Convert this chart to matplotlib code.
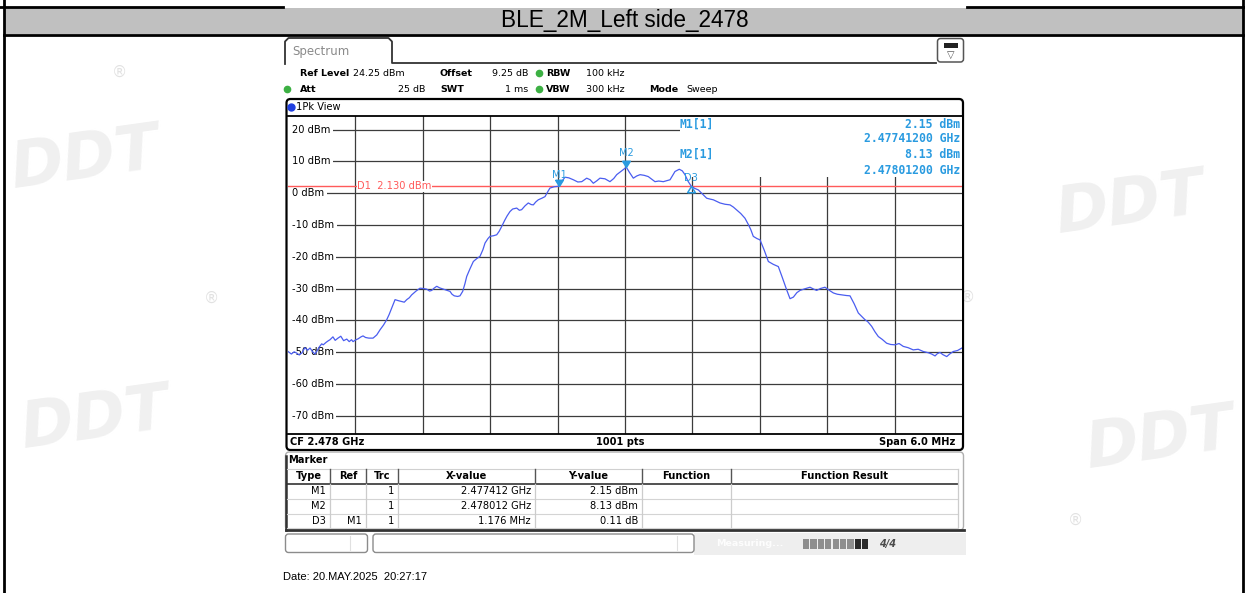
import matplotlib
matplotlib.use("Agg")
import matplotlib.pyplot as plt
from matplotlib.patches import FancyBboxPatch, Rectangle
from matplotlib.path import Path

W, H, DPI = 1245, 593, 100

# ---------------- data ----------------
title = "BLE_2M_Left side_2478"
ref_level = 24.25
db_per_div = 10
start_mhz = 2475.0
stop_mhz = 2481.0
n_xdiv = 10
d1_level = 2.130
d1_label = "D1  2.130 dBm"

ytick_values = [20, 10, 0, -10, -20, -30, -40, -50, -60, -70]
ytick_labels = ["20 dBm", "10 dBm", "0 dBm", "-10 dBm", "-20 dBm", "-30 dBm",
                "-40 dBm", "-50 dBm", "-60 dBm", "-70 dBm"]

trace_freq_mhz = [
    2475.000, 2475.030, 2475.055, 2475.077, 2475.100, 2475.125, 2475.150, 2475.175,
    2475.196, 2475.220, 2475.240, 2475.255, 2475.280, 2475.300, 2475.314, 2475.340,
    2475.360, 2475.374, 2475.400, 2475.420, 2475.445, 2475.470, 2475.495, 2475.523,
    2475.545, 2475.565, 2475.579, 2475.600, 2475.625, 2475.650, 2475.668, 2475.690,
    2475.720, 2475.757, 2475.790, 2475.819, 2475.850, 2475.879, 2475.900, 2475.923,
    2475.953, 2475.980, 2476.012, 2476.035, 2476.057, 2476.080, 2476.101, 2476.140,
    2476.175, 2476.205, 2476.235, 2476.260, 2476.279, 2476.300, 2476.324, 2476.350,
    2476.383, 2476.410, 2476.442, 2476.460, 2476.480, 2476.510, 2476.531, 2476.555,
    2476.575, 2476.591, 2476.620, 2476.650, 2476.680, 2476.709, 2476.735, 2476.754,
    2476.780, 2476.798, 2476.830, 2476.858, 2476.880, 2476.905, 2476.930, 2476.950,
    2476.976, 2477.000, 2477.036, 2477.060, 2477.080, 2477.110, 2477.139, 2477.165,
    2477.184, 2477.205, 2477.228, 2477.260, 2477.288, 2477.310, 2477.332, 2477.370,
    2477.412, 2477.440, 2477.466, 2477.500, 2477.540, 2477.580, 2477.615, 2477.659,
    2477.690, 2477.718, 2477.750, 2477.777, 2477.822, 2477.866, 2477.900, 2477.926,
    2477.970, 2478.012, 2478.040, 2478.074, 2478.105, 2478.134, 2478.170, 2478.207,
    2478.240, 2478.267, 2478.300, 2478.341, 2478.370, 2478.401, 2478.425, 2478.445,
    2478.483, 2478.510, 2478.534, 2478.560, 2478.588, 2478.620, 2478.653, 2478.690,
    2478.727, 2478.760, 2478.786, 2478.815, 2478.846, 2478.890, 2478.935, 2478.965,
    2478.994, 2479.030, 2479.068, 2479.100, 2479.120, 2479.142, 2479.175, 2479.202,
    2479.240, 2479.276, 2479.320, 2479.365, 2479.400, 2479.439, 2479.469, 2479.499,
    2479.530, 2479.558, 2479.600, 2479.647, 2479.680, 2479.706, 2479.740, 2479.780,
    2479.820, 2479.855, 2479.890, 2479.929, 2479.970, 2480.003, 2480.040, 2480.077,
    2480.110, 2480.136, 2480.160, 2480.175, 2480.196, 2480.225, 2480.255, 2480.290,
    2480.329, 2480.365, 2480.403, 2480.440, 2480.477, 2480.520, 2480.566, 2480.610,
    2480.655, 2480.700, 2480.730, 2480.760, 2480.780, 2480.804, 2480.830, 2480.864,
    2480.890, 2480.923, 2480.960, 2481.000,
]
trace_dbm = [
    -49.8, -50.6, -49.9, -50.3, -50.9, -50.2, -48.6, -49.4,
    -48.7, -49.9, -50.6, -49.8, -48.3, -47.4, -47.7, -46.9,
    -46.4, -46.1, -45.2, -46.3, -45.6, -45.0, -46.4, -45.9,
    -46.7, -46.1, -46.7, -46.2, -45.8, -45.2, -44.9, -45.4,
    -45.6, -45.6, -44.6, -43.0, -41.5, -39.8, -38.2, -36.2,
    -33.5, -33.8, -34.1, -34.3, -33.5, -32.9, -32.0, -30.8,
    -29.9, -30.0, -30.2, -30.8, -30.6, -29.9, -29.3, -29.8,
    -30.2, -30.5, -30.9, -31.8, -32.3, -32.5, -32.3, -30.9,
    -28.5, -26.2, -23.8, -21.5, -20.6, -19.9, -17.8, -15.7,
    -14.3, -13.6, -13.4, -13.1, -12.0, -10.3, -8.5, -7.2,
    -5.8, -5.0, -4.7, -5.4, -5.2, -4.0, -3.1, -3.6,
    -3.7, -2.8, -2.1, -1.6, -1.1, 0.3, 1.6, 2.0,
    2.15, 3.8, 5.0, 4.8, 4.2, 3.5, 3.6, 4.7,
    4.2, 3.1, 3.9, 4.7, 4.5, 3.6, 4.6, 5.8,
    7.0, 8.13, 6.5, 4.7, 5.4, 5.8, 5.6, 5.2,
    4.3, 3.6, 3.8, 3.6, 3.9, 4.2, 5.6, 6.8,
    7.5, 7.0, 5.8, 3.8, 2.26, 1.5, 1.0, -0.3,
    -1.6, -1.9, -2.1, -2.6, -3.1, -3.5, -3.7, -4.4,
    -5.3, -6.4, -7.9, -10.0, -11.5, -13.6, -14.3, -14.7,
    -18.0, -21.5, -22.4, -23.1, -26.5, -30.4, -33.2, -32.7,
    -31.3, -30.6, -30.1, -29.6, -30.2, -30.6, -30.0, -29.6,
    -30.6, -31.4, -31.8, -32.0, -32.2, -32.3, -34.8, -37.7,
    -38.9, -39.8, -40.4, -41.0, -41.9, -43.6, -45.1, -46.0,
    -47.2, -47.6, -47.7, -47.3, -48.2, -48.6, -49.3, -49.1,
    -49.8, -50.2, -50.6, -51.2, -50.5, -50.1, -50.8, -51.4,
    -50.6, -49.8, -49.5, -48.7,
]

marker_names = ["M1", "M2", "D3"]
marker_freq_mhz = [2477.412, 2478.012, 2478.588]
marker_dbm = [2.15, 8.13, 2.26]
marker_label_dy = [11, 14, 8]

info_lines = [("M1[1]", "2.15 dBm"), ("", "2.47741200 GHz"),
              ("M2[1]", "8.13 dBm"), ("", "2.47801200 GHz")]

table_header = ["Type", "Ref", "Trc", "X-value", "Y-value", "Function", "Function Result"]
table_rows = [
    ["M1", "", "1", "2.477412 GHz", "2.15 dBm", "", ""],
    ["M2", "", "1", "2.478012 GHz", "8.13 dBm", "", ""],
    ["D3", "M1", "1", "1.176 MHz", "0.11 dB", "", ""],
]

date_text = "Date: 20.MAY.2025  20:27:17"

# ---------------- colours / fonts ----------------
TRACE = "#4a5df0"
MK = "#2a9be0"
RED = "#ff5a5a"
GRID = "#3c3c3c"
GREEN = "#3cb043"
F = "DejaVu Sans"
FS = 7.1

fig = plt.figure(figsize=(W / DPI, H / DPI), dpi=DPI)
fig.patch.set_facecolor("white")

bg = fig.add_axes([0, 0, 1, 1])
bg.set_xlim(0, W); bg.set_ylim(H, 0); bg.axis("off"); bg.set_zorder(0)

# ---- watermarks (very faint) ----
wm = "#f0f0f0"
for (x, y, s) in [(85, 160, 46), (95, 420, 46), (1130, 205, 46), (1160, 440, 46)]:
    bg.text(x, y, "DDT", fontsize=s, color=wm, fontweight="bold", fontstyle="italic",
            ha="center", va="center", family=F, rotation=8, zorder=0)
for (x, y) in [(120, 72), (212, 298), (968, 297), (1075, 520)]:
    bg.text(x, y, "\u00ae", fontsize=11, color="#e2e2e2", ha="center", va="center", zorder=0)

# ---- page frame and title band ----
bg.add_patch(Rectangle((4, 8), 1239, 26, facecolor="#c0c0c0", edgecolor="none", zorder=1))
bg.plot([0, 283], [6.5, 6.5], color="black", lw=2, zorder=2)
bg.plot([967, W], [6.5, 6.5], color="black", lw=2, zorder=2)
bg.plot([4, 1243], [35, 35], color="black", lw=2, zorder=2)
bg.plot([4.3, 4.3], [0, H], color="black", lw=2, zorder=2)
bg.plot([1243, 1243], [0, H], color="black", lw=2, zorder=2)
bg.text(625, 20.5, title, fontsize=16.3, family="Liberation Sans", ha="center", va="center", zorder=3)

# ---- Spectrum tab ----
bg.plot([285, 285, 288.5, 388.5, 392, 392, 936], [64, 41.5, 38, 38, 41.5, 63, 63],
        color="#333333", lw=1.3, zorder=3)
bg.text(292, 51, "Spectrum", fontsize=8.5, color="#8a8a8a", family=F, ha="left", va="center", zorder=3)
bg.add_patch(FancyBboxPatch((937.5, 38.5), 26, 23.5, boxstyle="round,pad=0,rounding_size=3",
                            facecolor="white", edgecolor="#555555", lw=1.1, zorder=3))
bg.add_patch(Rectangle((944, 43), 14, 5, facecolor="#222222", edgecolor="none", zorder=4))
bg.text(951, 55, "\u25bd", fontsize=7, color="#555555", ha="center", va="center", zorder=4)

# ---- header settings ----
def t(x, y, s, bold=False, ha="left", color="black", size=FS, layer=bg):
    layer.text(x, y, s, fontsize=size, family=F, fontweight="bold" if bold else "normal",
               ha=ha, va="center", color=color, zorder=5)

HS = 6.8
t(300, 73, "Ref Level", True, size=HS); t(353, 73, "24.25 dBm", size=HS)
t(440, 73, "Offset", True, size=HS); t(528, 73, "9.25 dB", ha="right", size=HS)
t(546, 73, "RBW", True, size=HS); t(586, 73, "100 kHz", size=HS)
t(300, 89, "Att", True, size=HS); t(425, 89, "25 dB", ha="right", size=HS)
t(440, 89, "SWT", True, size=HS); t(528, 89, "1 ms", ha="right", size=HS)
t(546, 89, "VBW", True, size=HS); t(586, 89, "300 kHz", size=HS)
t(649, 89, "Mode", True, size=HS); t(686, 89, "Sweep", size=HS)
bg.plot([539, 287, 539], [73, 89, 89], linestyle="none", marker="o", ms=4.5,
        color=GREEN, zorder=5)

# ---- outer spectrum frame ----
bg.add_patch(FancyBboxPatch((286.5, 99), 676.5, 351, boxstyle="round,pad=0,rounding_size=4",
                            facecolor="white", edgecolor="black", lw=1.6, zorder=3))
bg.plot([291], [106.5], marker="o", ms=5, color="#1f3fe0", zorder=5)
t(296, 106.5, "1Pk View")
t(290, 442, "CF 2.478 GHz", True)
t(620, 442, "1001 pts", True, ha="center")
t(955, 442, "Span 6.0 MHz", True, ha="right")

# ---- marker table panel ----
bg.add_patch(FancyBboxPatch((285.5, 452), 678, 78, boxstyle="round,pad=0,rounding_size=4",
                            facecolor="white", edgecolor="#b0b0b0", lw=1.0, zorder=3))
bg.plot([285.5, 285.5], [456, 530], color="#333333", lw=1.8, zorder=4)
bg.plot([285.5, 964], [530, 530], color="#333333", lw=2.0, zorder=4)
t(288, 460, "Marker", True)
col_edges = [287, 330, 366, 398, 535, 642, 731, 958]
bg.plot([287, 958], [468.5, 468.5], color="#d0d0d0", lw=0.8, zorder=4)
bg.plot([287, 958], [483.5, 483.5], color="#333333", lw=1.2, zorder=4)
for yy in [498.5, 513.5, 527.5]:
    bg.plot([287, 958], [yy, yy], color="#d4d4d4", lw=0.8, zorder=4)
for xe in col_edges[1:-1]:
    bg.plot([xe, xe], [469, 483], color="#555555", lw=1.0, zorder=4)
    bg.plot([xe, xe], [484, 527], color="#cccccc", lw=0.9, zorder=4)
bg.plot([958, 958], [469, 527], color="#cccccc", lw=0.9, zorder=4)
for i, h in enumerate(table_header):
    t((col_edges[i] + col_edges[i + 1]) / 2, 476, h, True, ha="center")
row_y = [491, 506, 520.5]
for r, row in enumerate(table_rows):
    for i, val in enumerate(row):
        if val:
            t(col_edges[i + 1] - 4, row_y[r], val, ha="right")

# ---- status bar ----
bg.add_patch(Rectangle((694, 533), 272, 22, facecolor="#eeeeee", edgecolor="none", zorder=2))
bg.add_patch(FancyBboxPatch((285.5, 534), 82, 18.5, boxstyle="round,pad=0,rounding_size=3",
                            facecolor="white", edgecolor="#8c8c8c", lw=1.0, zorder=3))
bg.add_patch(FancyBboxPatch((373, 534), 321, 18.5, boxstyle="round,pad=0,rounding_size=3",
                            facecolor="white", edgecolor="#8c8c8c", lw=1.0, zorder=3))
bg.plot([350, 350], [536, 550], color="#e0e0e0", lw=0.8, zorder=4)
bg.plot([677, 677], [536, 550], color="#e0e0e0", lw=0.8, zorder=4)
t(716, 543.5, "Measuring...", True, color="#fdfdfd", size=6.8)
for k in range(9):
    bg.add_patch(Rectangle((803 + k * 7.4, 538.5), 6.2, 10,
                           facecolor="#2a2a2a" if k >= 7 else "#8e8e8e",
                           edgecolor="none", zorder=4))
bg.text(888, 543.5, "4/4", fontsize=7, fontweight="bold", fontstyle="italic", color="#4a4a4a",
        ha="center", va="center", family=F, zorder=4)
bg.text(283, 577, date_text, fontsize=8.0, family="Liberation Sans", ha="left", va="center", zorder=4)

# ---------------- spectrum axes ----------------
x0, x1, y0, y1 = 288, 962, 116, 434
ax = fig.add_axes([x0 / W, 1 - y1 / H, (x1 - x0) / W, (y1 - y0) / H])
ax.set_zorder(2)
ax.set_facecolor("white")
ax.set_xlim(start_mhz, stop_mhz)
ax.set_ylim(ref_level - db_per_div * 10, ref_level)
step = (stop_mhz - start_mhz) / n_xdiv
ax.set_xticks([start_mhz + step * k for k in range(1, n_xdiv)])
ax.set_yticks(ytick_values)
ax.tick_params(length=0, labelbottom=False, labelleft=False)
ax.grid(True, color=GRID, lw=0.9)
for side in ["left", "right"]:
    ax.spines[side].set_visible(False)
for side in ["top", "bottom"]:
    ax.spines[side].set_color("black")
    ax.spines[side].set_linewidth(1.3)

# white area behind marker readout (upper right)
ax.add_patch(Rectangle(((680 - x0) / (x1 - x0), (y1 - 177) / (y1 - y0)), 1, 1,
                       transform=ax.transAxes, facecolor="white", edgecolor="none", zorder=2))
# white strip at far left behind the level labels
ax.add_patch(Rectangle((0, 0), (291 - x0) / (x1 - x0), 1, transform=ax.transAxes,
                       facecolor="white", edgecolor="none", zorder=2))

yt = ax.get_yaxis_transform()
for v, lab in zip(ytick_values, ytick_labels):
    ax.text((292 - x0) / (x1 - x0), v, lab, transform=yt, fontsize=FS, family=F,
            ha="left", va="center", zorder=2.5,
            bbox=dict(boxstyle="square,pad=0.25", facecolor="white", edgecolor="none"))

ax.axhline(d1_level, color=RED, lw=1.0, zorder=3)
ax.text((357 - x0) / (x1 - x0), d1_level, d1_label, transform=yt, fontsize=FS, family=F,
        color=RED, ha="left", va="center", zorder=3.5,
        bbox=dict(boxstyle="square,pad=0.05", facecolor="white", edgecolor="none"))

ax.plot(trace_freq_mhz, trace_dbm, color=TRACE, lw=0.9, zorder=4)

tri_down = Path([(-1, 1.6), (1, 1.6), (0, 0), (-1, 1.6)])
tri_up_below = Path([(-1, -1.6), (1, -1.6), (0, 0), (-1, -1.6)])
for name, f, v, dy in zip(marker_names, marker_freq_mhz, marker_dbm, marker_label_dy):
    if name.startswith("D"):
        ax.plot([f], [v], marker=tri_up_below, ms=9, markerfacecolor="none",
                markeredgecolor=MK, mew=1.1, zorder=5)
    else:
        ax.plot([f], [v], marker=tri_down, ms=9, color=MK, zorder=5)
    ax.annotate(name, (f, v), xytext=(0, dy), textcoords="offset pixels", fontsize=FS,
                family=F, color=MK, ha="center", va="center", zorder=5)

# ---------------- overlay: marker readout ----------------
ov = fig.add_axes([0, 0, 1, 1])
ov.set_xlim(0, W); ov.set_ylim(H, 0); ov.axis("off"); ov.set_zorder(3)
ov.patch.set_visible(False)
for (lab, val), yy in zip(info_lines, [124, 139, 154.5, 170]):
    if lab:
        ov.text(680, yy, lab, fontsize=8.3, family="DejaVu Sans Mono", fontweight="bold",
                color=MK, ha="left", va="center")
    ov.text(960, yy, val, fontsize=8.3, family="DejaVu Sans Mono", fontweight="bold",
            color=MK, ha="right", va="center")

fig.savefig("out.png", dpi=DPI)
